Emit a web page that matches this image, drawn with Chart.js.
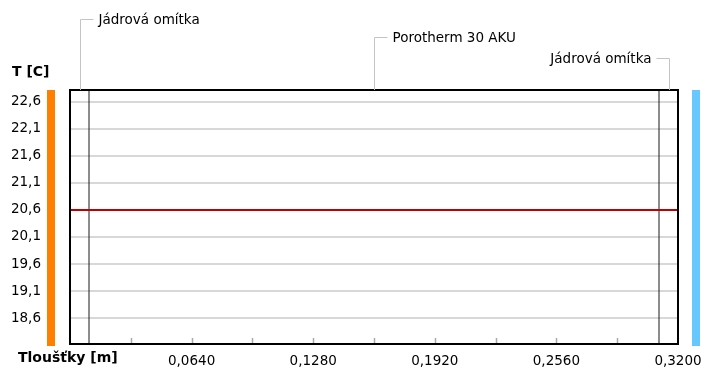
<!DOCTYPE html>
<html>
<head>
<meta charset="utf-8">
<script src="https://cdn.jsdelivr.net/npm/chart.js@4/dist/chart.umd.min.js"></script>
<style>
  html, body { margin: 0; padding: 0; background: #fff; }
  #wrap { width: 701px; height: 369px; position: relative; }
</style>
</head>
<body>
<div id="wrap"><canvas id="chart"></canvas></div>
<script>
// layers of the wall, inside -> outside
const layerNames = ['Jádrová omítka', 'Porotherm 30 AKU', 'Jádrová omítka'];
const layerBounds = [0, 0.01, 0.31, 0.32];     // m
const boundaryTemps = [20.6, 20.6, 20.6, 20.6]; // T [C] at each bound
const yTicks = [18.6, 19.1, 19.6, 20.1, 20.6, 21.1, 21.6, 22.1, 22.6];
const xTicks = [0, 0.032, 0.064, 0.096, 0.128, 0.160, 0.192, 0.224, 0.256, 0.288, 0.320];
const xLabelled = [0.064, 0.128, 0.192, 0.256, 0.320];
const yRange = [18.12, 22.82];

const FONT = 'DejaVu Sans';

// temperature profile
const profile = layerBounds.map((x, i) => ({ x: x, y: boundaryTemps[i] }));

// inner layer boundaries as vertical lines
const boundaryLines = layerBounds.slice(1, -1).map(x => ({
  type: 'line',
  data: [{ x: x, y: yRange[0] }, { x: x, y: yRange[1] }],
  borderColor: '#1a1a1a',
  borderWidth: 1,
  pointRadius: 0,
  fill: false
}));

// label overhang should not shrink the plot
function noPadding(s) {
  s.paddingTop = 0; s.paddingBottom = 0;
  s.paddingLeft = 0; s.paddingRight = 0;
}

const decor = {
  id: 'decor',
  afterDraw(chart) {
    const { ctx, chartArea: a } = chart;
    const xs = chart.scales.x;
    ctx.save();

    // small tick marks inside the bottom edge
    ctx.strokeStyle = '#a8a8a8';
    ctx.lineWidth = 1.5;
    xTicks.slice(1, -1).forEach(v => {
      const px = Math.round(xs.getPixelForValue(v)) + 0.5;
      ctx.beginPath();
      ctx.moveTo(px, a.bottom - 6);
      ctx.lineTo(px, a.bottom);
      ctx.stroke();
    });

    // frame
    ctx.strokeStyle = '#000';
    ctx.lineWidth = 2;
    ctx.strokeRect(a.left, a.top, a.right - a.left, a.bottom - a.top);

    // interior / exterior colour bars
    ctx.fillStyle = '#ff8000';
    ctx.fillRect(a.left - 23, a.top, 8, a.bottom - a.top + 2);
    ctx.fillStyle = '#66c8ff';
    ctx.fillRect(a.right + 14, a.top, 8, a.bottom - a.top + 2);

    // layer captions with leader lines
    const leaderY = [19, 37, 58];
    const side = ['right', 'right', 'left'];
    ctx.font = '13.5px "' + FONT + '"';
    ctx.textBaseline = 'middle';
    ctx.fillStyle = '#000';
    layerNames.forEach((name, i) => {
      const px = Math.round(xs.getPixelForValue((layerBounds[i] + layerBounds[i + 1]) / 2)) + 0.5;
      const y = leaderY[i] + 0.5;
      const dir = side[i] === 'right' ? 1 : -1;
      ctx.strokeStyle = '#c4c4c4';
      ctx.lineWidth = 1;
      ctx.beginPath();
      ctx.moveTo(px, a.top);
      ctx.lineTo(px, y);
      ctx.lineTo(px + dir * 13, y);
      ctx.stroke();
      ctx.textAlign = dir > 0 ? 'left' : 'right';
      ctx.fillText(name, px + dir * 18, y + 1);
    });

    // axis titles
    ctx.font = 'bold 14px "' + FONT + '"';
    ctx.textAlign = 'left';
    ctx.fillText('T [C]', 12, 72);
    ctx.fillText('Tloušťky [m]', 18, 358);
    ctx.restore();
  }
};

new Chart(document.getElementById('chart'), {
  type: 'line',
  data: {
    datasets: [{
      label: 'T',
      data: profile,
      borderColor: '#c00000',
      borderWidth: 2,
      pointRadius: 0,
      fill: false
    }].concat(boundaryLines)
  },
  options: {
    responsive: true,
    maintainAspectRatio: false,
    animation: false,
    events: [],
    layout: { padding: { top: 90, right: 23, left: 0, bottom: 0 } },
    plugins: { legend: { display: false }, tooltip: { enabled: false } },
    scales: {
      x: {
        type: 'linear',
        min: 0,
        max: 0.32,
        afterBuildTicks: s => { s.ticks = xTicks.map(v => ({ value: v })); },
        afterFit: s => { s.height = 25; noPadding(s); },
        grid: { display: false },
        border: { display: false },
        ticks: {
          autoSkip: false,
          maxRotation: 0,
          padding: 1,
          color: '#000',
          font: { family: FONT, size: 13.5 },
          callback: v => xLabelled.some(l => Math.abs(l - v) < 1e-6) ? v.toFixed(4).replace('.', ',') : ''
        }
      },
      y: {
        type: 'linear',
        min: yRange[0],
        max: yRange[1],
        afterBuildTicks: s => { s.ticks = yTicks.map(v => ({ value: v })); },
        afterFit: s => { s.width = 70; noPadding(s); },
        grid: { color: '#d8d8d8', lineWidth: 2, drawTicks: false },
        border: { display: false },
        ticks: {
          padding: 29,
          color: '#000',
          font: { family: FONT, size: 13.5 },
          callback: v => v.toFixed(1).replace('.', ',')
        }
      }
    }
  },
  plugins: [decor]
});
</script>
</body>
</html>
